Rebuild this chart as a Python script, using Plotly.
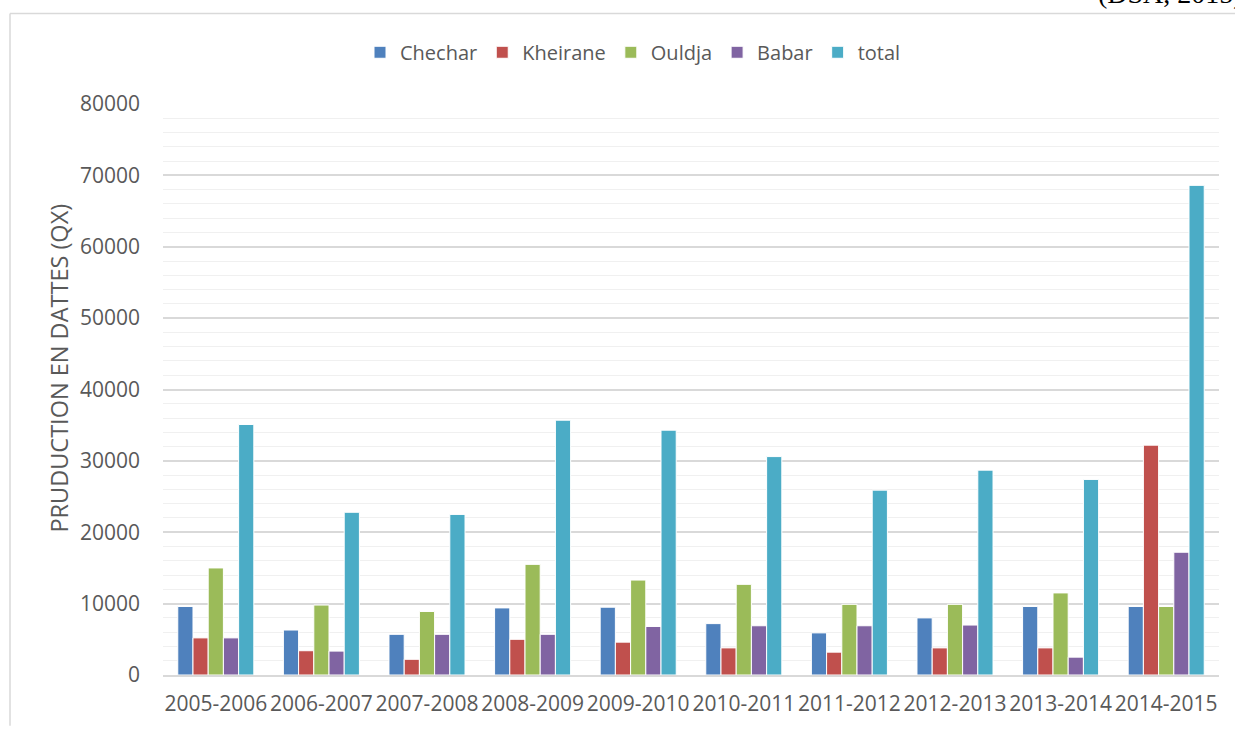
import plotly.graph_objects as go

categories = ["2005-2006", "2006-2007", "2007-2008", "2008-2009", "2009-2010",
              "2010-2011", "2011-2012", "2012-2013", "2013-2014", "2014-2015"]
chechar = [9600, 6300, 5700, 9400, 9500, 7200, 5900, 8000, 9600, 9600]
kheirane = [5200, 3400, 2200, 5000, 4600, 3800, 3200, 3800, 3800, 32200]
ouldja = [15000, 9800, 8900, 15500, 13300, 12700, 9900, 9900, 11500, 9600]
babar = [5200, 3350, 5700, 5700, 6800, 6900, 6900, 7000, 2500, 17200]
total = [35100, 22800, 22500, 35700, 34300, 30600, 25900, 28700, 27400, 68600]

series = [("Chechar", chechar, "#4F81BD"),
          ("Kheirane", kheirane, "#C0504D"),
          ("Ouldja", ouldja, "#9BBB59"),
          ("Babar", babar, "#8064A2"),
          ("total", total, "#4BACC6")]

W, H = 1235, 729
L, R, T, B = 163, 16, 104, 51
pw, ph = W - L - R, H - T - B

def px_x(x):
    return (x - L) / pw

def px_y(y):
    return (H - B - y) / ph

fig = go.Figure()
for name, vals, col in series:
    fig.add_trace(go.Bar(x=categories, y=vals, name=name,
                         marker=dict(color=col, line=dict(color="white", width=1))))

font_family = "Open Sans, Noto Sans, sans-serif"
fig.update_layout(
    width=W, height=H,
    margin=dict(l=L, r=R, t=T, b=B),
    paper_bgcolor="white", plot_bgcolor="white",
    barmode="group", bargap=0.28, bargroupgap=0,
    font=dict(family=font_family, color="#595959"),
    legend=dict(orientation="h", x=px_x(633), xanchor="center",
                y=px_y(52), yanchor="middle",
                font=dict(size=20, color="#595959"),
                itemwidth=30, tracegroupgap=0),
    showlegend=True,
)
fig.update_xaxes(showline=True, linecolor="#D9D9D9", linewidth=1.5,
                 tickfont=dict(size=21, color="#595959"), ticks="",
                 ticklabelstandoff=9, showgrid=False)
fig.update_yaxes(range=[0, 80000], dtick=10000, tickformat="d",
                 showgrid=True, gridcolor="#D9D9D9", gridwidth=1.5,
                 zeroline=False, showline=False,
                 tickfont=dict(size=21, color="#595959"), ticks="",
                 ticklabelstandoff=22,
                 minor=dict(dtick=2000, showgrid=True, gridcolor="#F0F0F0", gridwidth=1.3))

fig.add_annotation(text="PRUDUCTION EN DATTES (QX)", textangle=-90,
                   xref="paper", yref="paper", x=px_x(59), y=px_y(370),
                   xanchor="center", yanchor="middle", showarrow=False,
                   font=dict(size=23.5, color="#595959", family=font_family))

fig.add_annotation(text="(DSA, 2015)", xref="paper", yref="paper",
                   x=px_x(1096), y=px_y(11), xanchor="left", yanchor="bottom",
                   showarrow=False,
                   font=dict(size=28, color="black", family="Liberation Serif, Times New Roman, serif"))

# chart border (left and top)
fig.add_shape(type="line", xref="paper", yref="paper",
              x0=px_x(10), x1=px_x(10), y0=px_y(13), y1=px_y(729),
              line=dict(color="#D9D9D9", width=1.5))
fig.add_shape(type="line", xref="paper", yref="paper",
              x0=px_x(10), x1=px_x(1235), y0=px_y(13), y1=px_y(13),
              line=dict(color="#D9D9D9", width=1.5))

fig.write_html("out.html")
